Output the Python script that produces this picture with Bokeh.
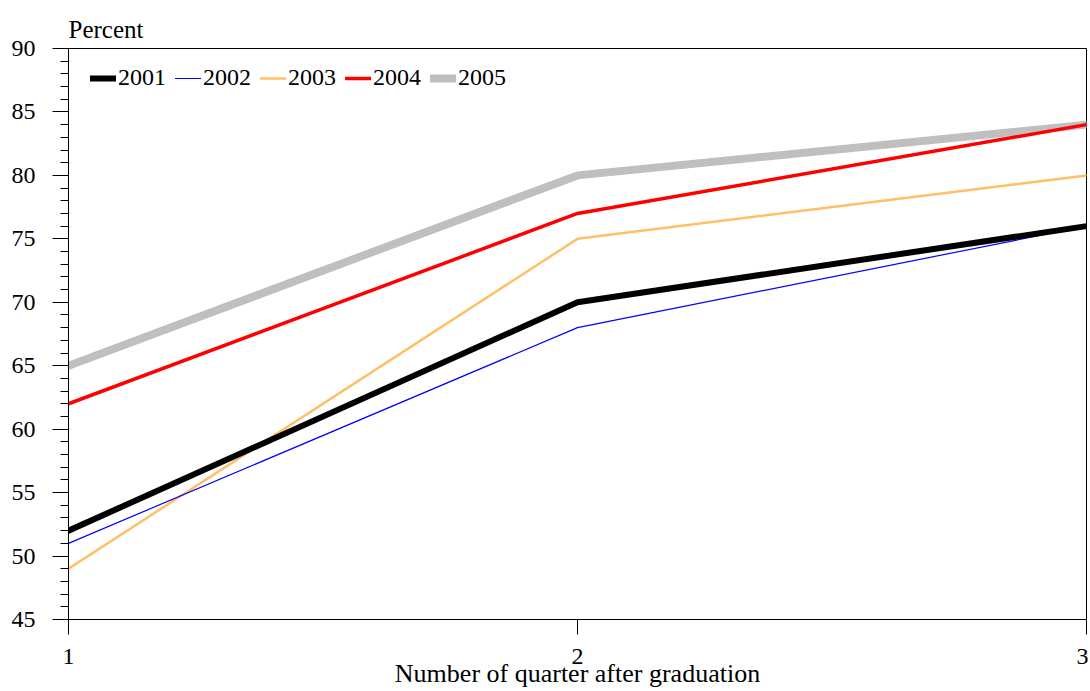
from bokeh.plotting import figure
from bokeh.models import Range1d, FixedTicker, ColumnDataSource
from bokeh.embed import file_html
from bokeh.resources import INLINE

quarters = [1, 2, 3]
y2001 = [52, 70, 76]
y2002 = [51, 68, 76]
y2003 = [49, 75, 80]
y2004 = [62, 77, 84]
y2005 = [65, 80, 84]
series_names = ["2001", "2002", "2003", "2004", "2005"]
series_values = [y2001, y2002, y2003, y2004, y2005]
colors = ["#000000", "#0000ff", "#ffbf66", "#ff0000", "#bfbfbf"]
widths = [6, 1.2, 2.5, 3.5, 8]
y_ticks = [45, 50, 55, 60, 65, 70, 75, 80, 85, 90]

FONT = "Liberation Serif"

p = figure(width=1088, height=690, output_backend="svg", toolbar_location=None,
           x_range=Range1d(1, 3), y_range=Range1d(45, 90),
           min_border_left=68, min_border_right=2, min_border_top=48, min_border_bottom=70,
           title="Percent")
p.title.text_font = FONT
p.title.text_font_size = "25px"
p.title.text_font_style = "normal"
p.title.text_color = "black"
p.title.align = "left"
p.title.offset = 0
p.title.standoff = 11

p.background_fill_color = "white"
p.border_fill_color = "white"
p.outline_line_color = "black"
p.outline_line_width = 1
p.grid.visible = False

order = [4, 3, 2, 1, 0]
for i in order:
    src = ColumnDataSource(dict(x=quarters, y=series_values[i]))
    p.line("x", "y", source=src, line_color=colors[i], line_width=widths[i],
           line_cap="round", line_join="round", legend_label=series_names[i])

leg = p.legend[0]
items = {it.label.value: it for it in leg.items}
leg.items = [items[n] for n in series_names]
leg.orientation = "horizontal"
leg.location = (22, 528)
leg.border_line_color = None
leg.background_fill_alpha = 0
leg.label_text_font = FONT
leg.label_text_font_size = "24px"
leg.label_text_color = "black"
leg.glyph_width = 26
leg.glyph_height = 20
leg.label_standoff = 2
leg.spacing = 9
leg.margin = 0
leg.padding = 0

xa = p.xaxis[0]
xa.ticker = FixedTicker(ticks=quarters)
xa.minor_tick_line_color = None
xa.major_tick_out = 15
xa.major_tick_in = 0
xa.major_label_text_font = FONT
xa.major_label_text_font_size = "24px"
xa.major_label_text_color = "black"
xa.major_label_standoff = 14
xa.axis_label = "Number of quarter after graduation"
xa.axis_label_text_font = FONT
xa.axis_label_text_font_size = "26px"
xa.axis_label_text_font_style = "normal"
xa.axis_label_text_color = "black"
xa.axis_label_standoff = -8
xa.axis_line_color = "black"
xa.major_tick_line_color = "black"

ya = p.yaxis[0]
ya.ticker = FixedTicker(ticks=y_ticks, minor_ticks=list(range(45, 91)))
ya.major_tick_out = 16
ya.major_tick_in = 0
ya.minor_tick_out = 8
ya.minor_tick_in = 0
ya.major_label_text_font = FONT
ya.major_label_text_font_size = "24px"
ya.major_label_text_color = "black"
ya.major_label_standoff = 17
ya.axis_line_color = "black"
ya.major_tick_line_color = "black"
ya.minor_tick_line_color = "black"

open("out.html", "w").write(file_html(p, INLINE))
